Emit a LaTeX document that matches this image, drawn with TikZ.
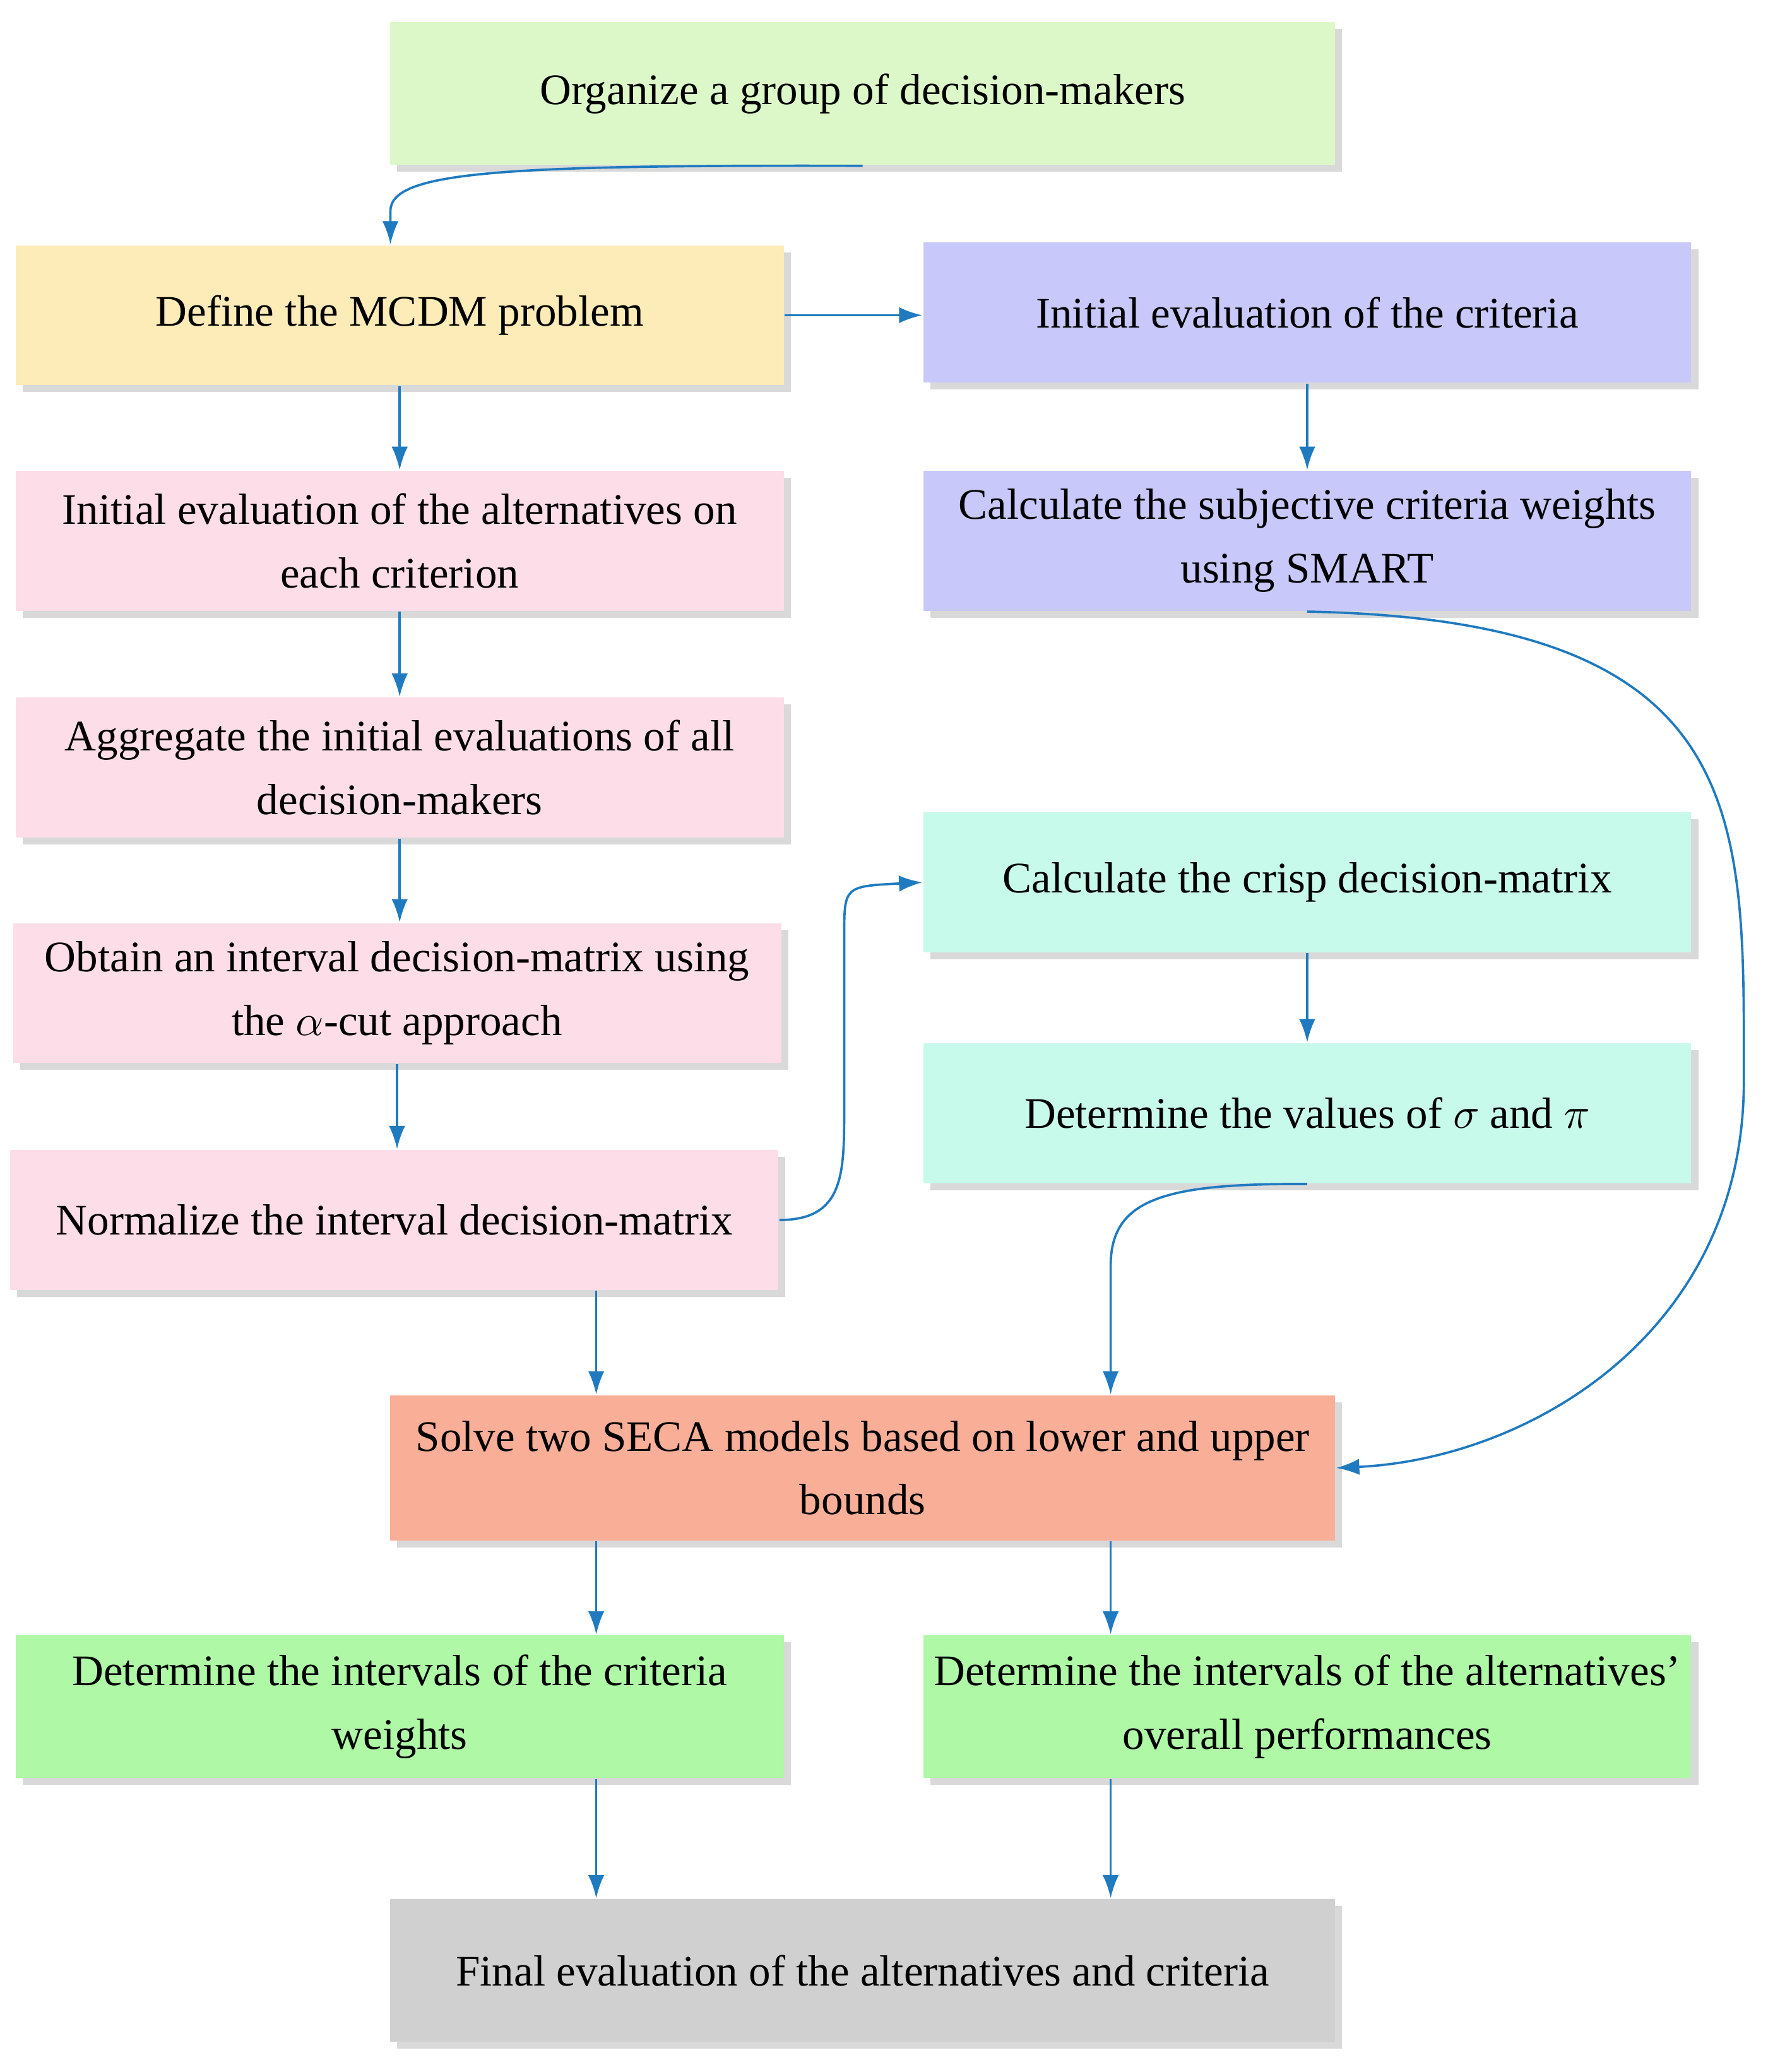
\documentclass[tikz,border=0pt]{standalone}
\usepackage{fontspec}
\setmainfont{Liberation Serif}
\usepackage{unicode-math}
\setmathfont{Latin Modern Math}
\usetikzlibrary{shadows,arrows.meta}
\definecolor{cOrg}{HTML}{DDF8C8}
\definecolor{cDef}{HTML}{FDEBB8}
\definecolor{cLav}{HTML}{C8C8FA}
\definecolor{cPink}{HTML}{FDDDE8}
\definecolor{cCyan}{HTML}{C8FAEB}
\definecolor{cSal}{HTML}{F9AE98}
\definecolor{cGrn}{HTML}{AEF8A6}
\definecolor{cGray}{HTML}{D0D0D0}
\definecolor{cArr}{HTML}{1F7AC0}
\tikzset{
  box/.style={fill=#1, align=center, minimum width=5.82cm, minimum height=1.06cm,
    inner sep=0pt, font=\fontsize{9.4}{13.7}\selectfont,
    drop shadow={opacity=.3, shadow xshift=1.5pt, shadow yshift=-1.5pt}},
  wide/.style={minimum width=7.16cm, minimum height=1.08cm},
  arr/.style={draw=cArr, line width=.5pt, -{Latex[length=5pt,width=3.5pt]}}
}
\begin{document}
\begin{tikzpicture}[x=0.01cm,y=-0.01cm]
\useasboundingbox (0,0) rectangle (1340,1571);

% top
\node[box=cOrg,wide] (org) at (654,71) {Organize a group of decision-makers};

% left column
\node[box=cDef] (def) at (303,239) {Define the MCDM problem};
\node[box=cPink] (ialt) at (303,410) {Initial evaluation of the alternatives on\\each criterion};
\node[box=cPink] (agg) at (303,582) {Aggregate the initial evaluations of all\\decision-makers};
\node[box=cPink] (obt) at (301,753) {Obtain an interval decision-matrix using\\the $\alpha$-cut approach};
\node[box=cPink] (norm) at (299,925) {Normalize the interval decision-matrix};

% right column
\node[box=cLav] (icr) at (991,237) {Initial evaluation of the criteria};
\node[box=cLav] (subj) at (991,410) {Calculate the subjective criteria weights\\using SMART};
\node[box=cCyan] (crisp) at (991,669) {Calculate the crisp decision-matrix};
\node[box=cCyan] (sig) at (991,844) {Determine the values of $\sigma$ and $\pi$};

% bottom
\node[box=cSal,wide,minimum height=1.1cm] (solve) at (654,1113) {Solve two SECA models based on lower and upper\\bounds};
\node[box=cGrn,minimum height=1.08cm] (dcw) at (303,1294) {Determine the intervals of the criteria\\weights};
\node[box=cGrn,minimum height=1.08cm] (dap) at (991,1294) {Determine the intervals of the alternatives’\\overall performances};
\node[box=cGray,wide] (fin) at (654,1494) {Final evaluation of the alternatives and criteria};

\coordinate (cl) at (452,0);
\coordinate (cr) at (842,0);

% connectors
\draw[arr] (org.south) .. controls (380,125) and (296,130) .. (296,160) -- (def.north -| 296,0);
\draw[arr] (def.east) -- (def.east -| icr.west);
\draw[arr] (icr.south) -- (subj.north);
\draw[arr] (def.south) -- (ialt.north);
\draw[arr] (ialt.south) -- (agg.north);
\draw[arr] (agg.south) -- (agg.south |- obt.north);
\draw[arr] (obt.south) -- (obt.south |- norm.north);
\draw[arr] (crisp.south) -- (sig.north);
\draw[arr] (norm.east) .. controls (640,925) and (640,890) .. (640,840) -- (640,710)
  .. controls (640,672) .. (crisp.west);
\draw[arr] (sig.south) .. controls (880,897) and (842,910) .. (842,960) -- (solve.north -| cr);
\draw[arr] (subj.south) .. controls (1330,470) and (1322,620) .. (1322,820)
  .. controls (1322,1010) and (1160,1106) .. (solve.east);
\draw[arr] (norm.south -| cl) -- (solve.north -| cl);
\draw[arr] (solve.south -| cl) -- (dcw.north -| cl);
\draw[arr] (solve.south -| cr) -- (dap.north -| cr);
\draw[arr] (dcw.south -| cl) -- (fin.north -| cl);
\draw[arr] (dap.south -| cr) -- (fin.north -| cr);
\end{tikzpicture}
\end{document}
